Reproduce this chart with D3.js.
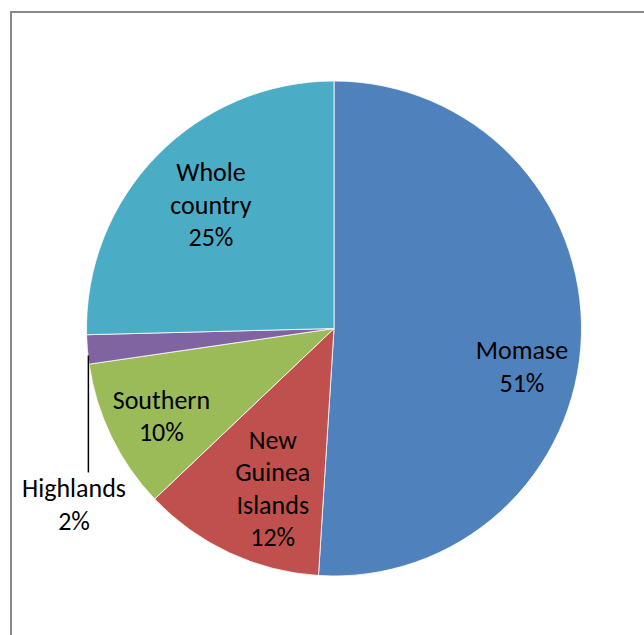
<!DOCTYPE html>
<html><head><meta charset="utf-8">
<script src="https://cdn.jsdelivr.net/npm/d3@7/dist/d3.min.js"></script>
<style>html,body{margin:0;padding:0;background:#fff;}svg{display:block;}</style>
</head><body>
<svg id="c" width="644" height="635"></svg>
<script>
const categories = ["Momase", "New Guinea Islands", "Southern", "Highlands", "Whole country"];
const values = [51.0, 11.9, 9.8, 1.9, 25.4];
const percentLabels = ["51%", "12%", "10%", "2%", "25%"];
const labelLines = [["Momase"], ["New", "Guinea", "Islands"], ["Southern"], ["Highlands"], ["Whole", "country"]];
const colors = ["#4F81BD", "#C0504D", "#9BBB59", "#8064A2", "#4BACC6"];

const svg = d3.select("#c");
const cx = 334, cy = 328.5, r = 247.5;
const font = "Carlito, 'Open Sans', Lato, sans-serif";
const fs = 26, lh = 32.5;

// frame
svg.append("rect").attr("x", 11).attr("y", 12).attr("width", 700).attr("height", 700)
  .attr("fill", "none").attr("stroke", "#888").attr("stroke-width", 2);

const data = categories.map((c, i) => ({cat: c, value: values[i], pct: percentLabels[i], lines: labelLines[i], color: colors[i]}));
const pie = d3.pie().value(d => d.value).sort(null);
const arcs = pie(data);
const arc = d3.arc().innerRadius(0).outerRadius(r);

const g = svg.append("g").attr("transform", `translate(${cx},${cy})`);
g.selectAll("path").data(arcs).join("path")
  .attr("d", arc).attr("fill", d => d.data.color)
  .attr("stroke", "#fff").attr("stroke-width", 0.8);

// label layout: radius factor and nudges
const labelLayout = {
  "Momase": {f: 0.76, dx: 0, dy: 32},
  "New Guinea Islands": {f: 0.70, dx: 12, dy: 3},
  "Southern": {f: 0.78, dx: 1, dy: 3},
  "Whole country": {f: 0.70, dx: 1, dy: -3}
};
arcs.forEach(a => {
  const mid = (a.startAngle + a.endAngle) / 2;
  const lines = a.data.lines.concat([a.data.pct]);
  let x, y;
  if (a.data.cat === "Highlands") {
    const ax = Math.sin(mid) * r, ay = -Math.cos(mid) * r;
    const lx = ax + 1;
    g.append("line").attr("x1", lx).attr("y1", ay + 6).attr("x2", lx).attr("y2", ay + 123)
      .attr("stroke", "#000").attr("stroke-width", 1.5);
    x = -260; y = 176;
  } else {
    const L = labelLayout[a.data.cat];
    x = Math.sin(mid) * r * L.f + L.dx; y = -Math.cos(mid) * r * L.f + L.dy;
  }
  const t = g.append("text").attr("text-anchor", "middle")
    .attr("font-family", font).attr("font-size", fs).attr("fill", "#000");
  const n = lines.length;
  lines.forEach((s, i) => {
    t.append("tspan").attr("x", x).attr("y", y + (i - (n - 1) / 2) * lh).attr("dy", "0.35em").text(s);
  });
});
</script>
</body></html>
